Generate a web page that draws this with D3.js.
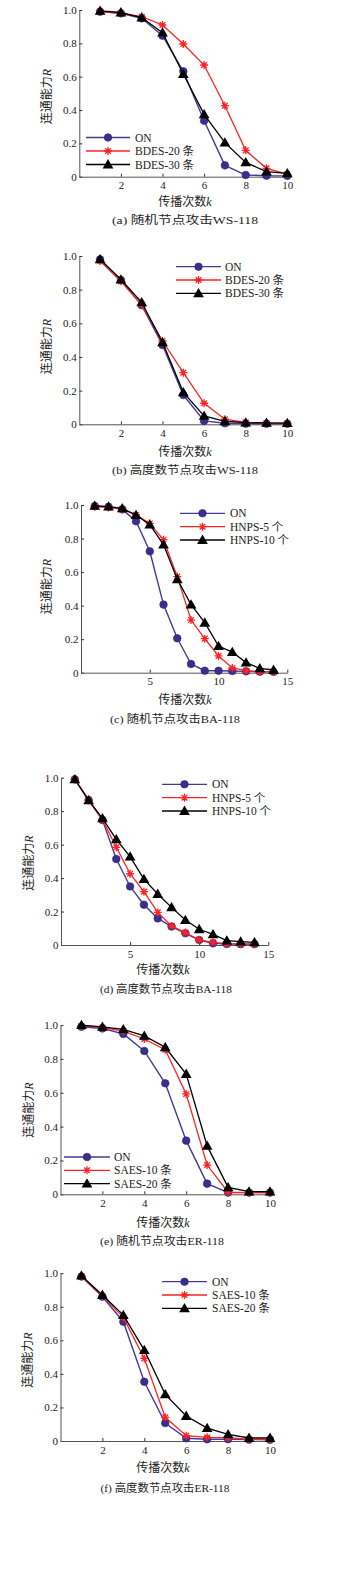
<!DOCTYPE html>
<html><head><meta charset="utf-8">
<script src="https://cdn.jsdelivr.net/npm/d3@7"></script>
<style>body{margin:0;background:#fff}</style>
</head><body><svg id="c" width="348" height="1592" style="background:#fff"></svg>
<script>
// ---------- data ----------
const k10 = [1,2,3,4,5,6,7,8,9,10];
const k14 = [1,2,3,4,5,6,7,8,9,10,11,12,13,14];
const xTicks10 = [2,4,6,8,10];
const xTicks15 = [5,10,15];
const yTicks = [0,0.2,0.4,0.6,0.8,1.0];

const namesWS = ["ON","BDES-20 条","BDES-30 条"];
const namesBA = ["ON","HNPS-5 个","HNPS-10 个"];
const namesER = ["ON","SAES-10 条","SAES-20 条"];
const captions = ["(a) 随机节点攻击WS-118","(b) 高度数节点攻击WS-118","(c) 随机节点攻击BA-118",
                  "(d) 高度数节点攻击BA-118","(e) 随机节点攻击ER-118","(f) 高度数节点攻击ER-118"];

// (a)
const onA     = [0.99,0.98,0.95,0.846,0.632,0.336,0.068,0.01,0.006,0.005];
const bdes20A = [0.99,0.98,0.96,0.91,0.796,0.67,0.426,0.158,0.05,0.016];
const bdes30A = [0.995,0.985,0.955,0.864,0.616,0.374,0.204,0.086,0.03,0.02];
// (b)
const onB     = [0.98,0.857,0.707,0.471,0.174,0.02,0.006,0.004,0.003,0.003];
const bdes20B = [0.97,0.85,0.71,0.495,0.307,0.125,0.03,0.012,0.006,0.005];
const bdes30B = [0.98,0.86,0.725,0.487,0.19,0.05,0.018,0.01,0.008,0.007];
// (c)
const onC     = [0.994,0.99,0.974,0.903,0.724,0.406,0.205,0.052,0.012,0.012,0.01,0.008,0.006,0.005];
const hnps5C  = [0.99,0.985,0.975,0.942,0.89,0.793,0.573,0.314,0.203,0.1,0.028,0.012,0.006,0.004];
const hnps10C = [0.995,0.99,0.98,0.94,0.883,0.764,0.557,0.406,0.298,0.159,0.123,0.06,0.026,0.016];
// (d)
const onD     = [0.99,0.867,0.747,0.514,0.35,0.241,0.159,0.11,0.07,0.03,0.01,0.006,0.005,0.005];
const hnps5D  = [0.99,0.865,0.75,0.584,0.426,0.319,0.195,0.114,0.074,0.03,0.016,0.008,0.006,0.005];
const hnps10D = [0.99,0.865,0.757,0.631,0.528,0.394,0.305,0.225,0.149,0.094,0.064,0.026,0.02,0.016];
// (e)
const onE     = [0.99,0.98,0.948,0.847,0.656,0.317,0.063,0.01,0.01,0.01];
const saes10E = [0.995,0.985,0.965,0.918,0.855,0.593,0.173,0.012,0.01,0.01];
const saes20E = [1.0,0.99,0.975,0.936,0.869,0.711,0.286,0.041,0.016,0.016];
// (f)
const onF     = [0.98,0.86,0.711,0.353,0.107,0.016,0.01,0.01,0.008,0.008];
const saes10F = [0.98,0.865,0.737,0.492,0.141,0.032,0.022,0.02,0.01,0.008];
const saes20F = [0.985,0.87,0.75,0.542,0.278,0.149,0.077,0.04,0.018,0.018];

// ---------- drawing ----------
const svg = d3.select("#c");
const FONT = "'Liberation Serif','Times New Roman','Noto Sans CJK SC',serif";
const colors = ["#45389a","#ff2222","#000000"];

const starSymbol = {
  draw(ctx, size) {
    const r = Math.sqrt(size) / 2;
    for (let i = 0; i < 4; i++) {
      const a = i * Math.PI / 4;
      ctx.moveTo(-r * Math.cos(a), -r * Math.sin(a));
      ctx.lineTo(r * Math.cos(a), r * Math.sin(a));
    }
  }
};

function marker(g, type, cx, cy) {
  if (type === 0) {
    g.append("circle").attr("cx", cx).attr("cy", cy).attr("r", 3.8)
      .attr("fill", "#3b2e8e").attr("stroke", "#2c2275").attr("stroke-width", 0.6);
  } else if (type === 1) {
    g.append("path").attr("d", d3.symbol(starSymbol, 64)())
      .attr("transform", `translate(${cx},${cy})`)
      .attr("fill", "none").attr("stroke", "#ff2222").attr("stroke-width", 1.3);
  } else {
    g.append("path").attr("d", d3.symbol(d3.symbolTriangle, 50)())
      .attr("transform", `translate(${cx},${cy + 0.8})`)
      .attr("fill", "#000");
  }
}

function panel(cfg) {
  const x = d3.scaleLinear().domain(cfg.xd).range(cfg.xr);
  const y = d3.scaleLinear().domain([0, 1]).range(cfg.yr);
  const g = svg.append("g");

  const ya = d3.axisLeft(y).tickValues(yTicks)
    .tickFormat(d => d === 0 ? "0" : d3.format(".1f")(d))
    .tickSizeInner(-3).tickSizeOuter(0).tickPadding(2.5);
  const xa = d3.axisBottom(x).tickValues(cfg.xt)
    .tickSizeInner(-3).tickSizeOuter(0).tickPadding(5);
  const gy = g.append("g").attr("transform", `translate(${cfg.xr[0]},0)`).call(ya);
  const gx = g.append("g").attr("transform", `translate(0,${cfg.yr[0]})`).call(xa);
  [gx, gy].forEach(a => {
    a.select(".domain").attr("stroke", "#555").attr("stroke-width", 1);
    a.selectAll(".tick line").attr("stroke", "#333");
    a.selectAll("text").attr("font-family", FONT).attr("font-size", 11).attr("fill", "#222");
  });

  const line = d3.line().x((d, i) => x(cfg.k[i])).y(d => y(d));
  cfg.series.forEach((s, si) => {
    g.append("path").datum(s).attr("d", line).attr("fill", "none")
      .attr("stroke", colors[si]).attr("stroke-width", si === 0 ? 1.4 : 1.3);
    s.forEach((v, i) => marker(g, si, x(cfg.k[i]), y(v)));
  });

  // legend
  cfg.names.forEach((n, i) => {
    const ly = cfg.leg.ys[i];
    g.append("line").attr("x1", cfg.leg.x0).attr("x2", cfg.leg.x1).attr("y1", ly).attr("y2", ly)
      .attr("stroke", colors[i]).attr("stroke-width", 1.3);
    marker(g, i, (cfg.leg.x0 + cfg.leg.x1) / 2, ly);
    g.append("text").attr("x", cfg.leg.tx).attr("y", ly).attr("dy", "0.35em")
      .attr("font-family", FONT).attr("font-size", 11.5).attr("fill", "#222").text(n);
  });

  // x title
  const xt = g.append("text").attr("x", cfg.xTitle[0]).attr("y", cfg.xTitle[1]).attr("dy", "0.35em")
    .attr("text-anchor", "middle").attr("font-family", FONT).attr("font-size", 12).attr("fill", "#222");
  xt.append("tspan").text("传播次数");
  xt.append("tspan").attr("font-style", "italic").text("k");
  // y title
  const yt = g.append("text").attr("transform", `translate(${cfg.yTitle[0]},${cfg.yTitle[1]}) rotate(-90)`)
    .attr("dy", "0.35em").attr("text-anchor", "middle").attr("font-family", FONT)
    .attr("font-size", 12).attr("fill", "#222");
  yt.append("tspan").text("连通能力");
  yt.append("tspan").attr("font-style", "italic").text("R");
  // caption
  g.append("text").attr("x", cfg.cap[0]).attr("y", cfg.cap[1]).attr("dy", "0.35em")
    .attr("text-anchor", "middle").attr("font-family", FONT).attr("font-size", 11).attr("fill", "#222")
    .attr("textLength", cfg.cap[2]).attr("lengthAdjust", "spacingAndGlyphs").text(cfg.caption);
}

panel({k: k10, xd: [0, 10], xr: [79.3, 287.3], yr: [176.7, 10], xt: xTicks10,
  series: [onA, bdes20A, bdes30A], names: namesWS,
  leg: {x0: 86, x1: 130, tx: 135, ys: [137.5, 151, 164.5]},
  xTitle: [185, 201.7], yTitle: [46.7, 96.7], cap: [185, 220, 146], caption: captions[0]});

panel({k: k10, xd: [0, 10], xr: [79.3, 287.3], yr: [424.3, 256], xt: xTicks10,
  series: [onB, bdes20B, bdes30B], names: namesWS,
  leg: {x0: 176, x1: 221, tx: 225, ys: [266.7, 280, 293.3]},
  xTitle: [185, 451.7], yTitle: [46.7, 346.7], cap: [185, 470, 146], caption: captions[1]});

panel({k: k14, xd: [0, 15], xr: [81, 287.3], yr: [672.7, 505], xt: xTicks15,
  series: [onC, hnps5C, hnps10C], names: namesBA,
  leg: {x0: 180, x1: 225, tx: 230, ys: [513.3, 526.7, 540]},
  xTitle: [185, 700], yTitle: [46.7, 586.7], cap: [175, 719, 130], caption: captions[2]});

panel({k: k14, xd: [0, 15], xr: [61, 268.3], yr: [945, 777.7], xt: xTicks15,
  series: [onD, hnps5D, hnps10D], names: namesBA,
  leg: {x0: 162, x1: 207, tx: 212, ys: [784.3, 797.7, 811]},
  xTitle: [163, 970], yTitle: [28.3, 863], cap: [166, 989, 132], caption: captions[3]});

panel({k: k10, xd: [0, 10], xr: [60.5, 270], yr: [1194.3, 1025.1], xt: xTicks10,
  series: [onE, saes10E, saes20E], names: namesER,
  leg: {x0: 64, x1: 110, tx: 114, ys: [1157, 1170.3, 1183.7]},
  xTitle: [163, 1222.7], yTitle: [28.3, 1110], cap: [162, 1240.7, 124], caption: captions[4]});

panel({k: k10, xd: [0, 10], xr: [60.5, 270], yr: [1441, 1273.2], xt: xTicks10,
  series: [onF, saes10F, saes20F], names: namesER,
  leg: {x0: 162, x1: 207, tx: 212, ys: [1281.7, 1295, 1308.3]},
  xTitle: [163, 1468], yTitle: [28, 1360], cap: [165, 1487.7, 129], caption: captions[5]});
</script>
</body></html>
